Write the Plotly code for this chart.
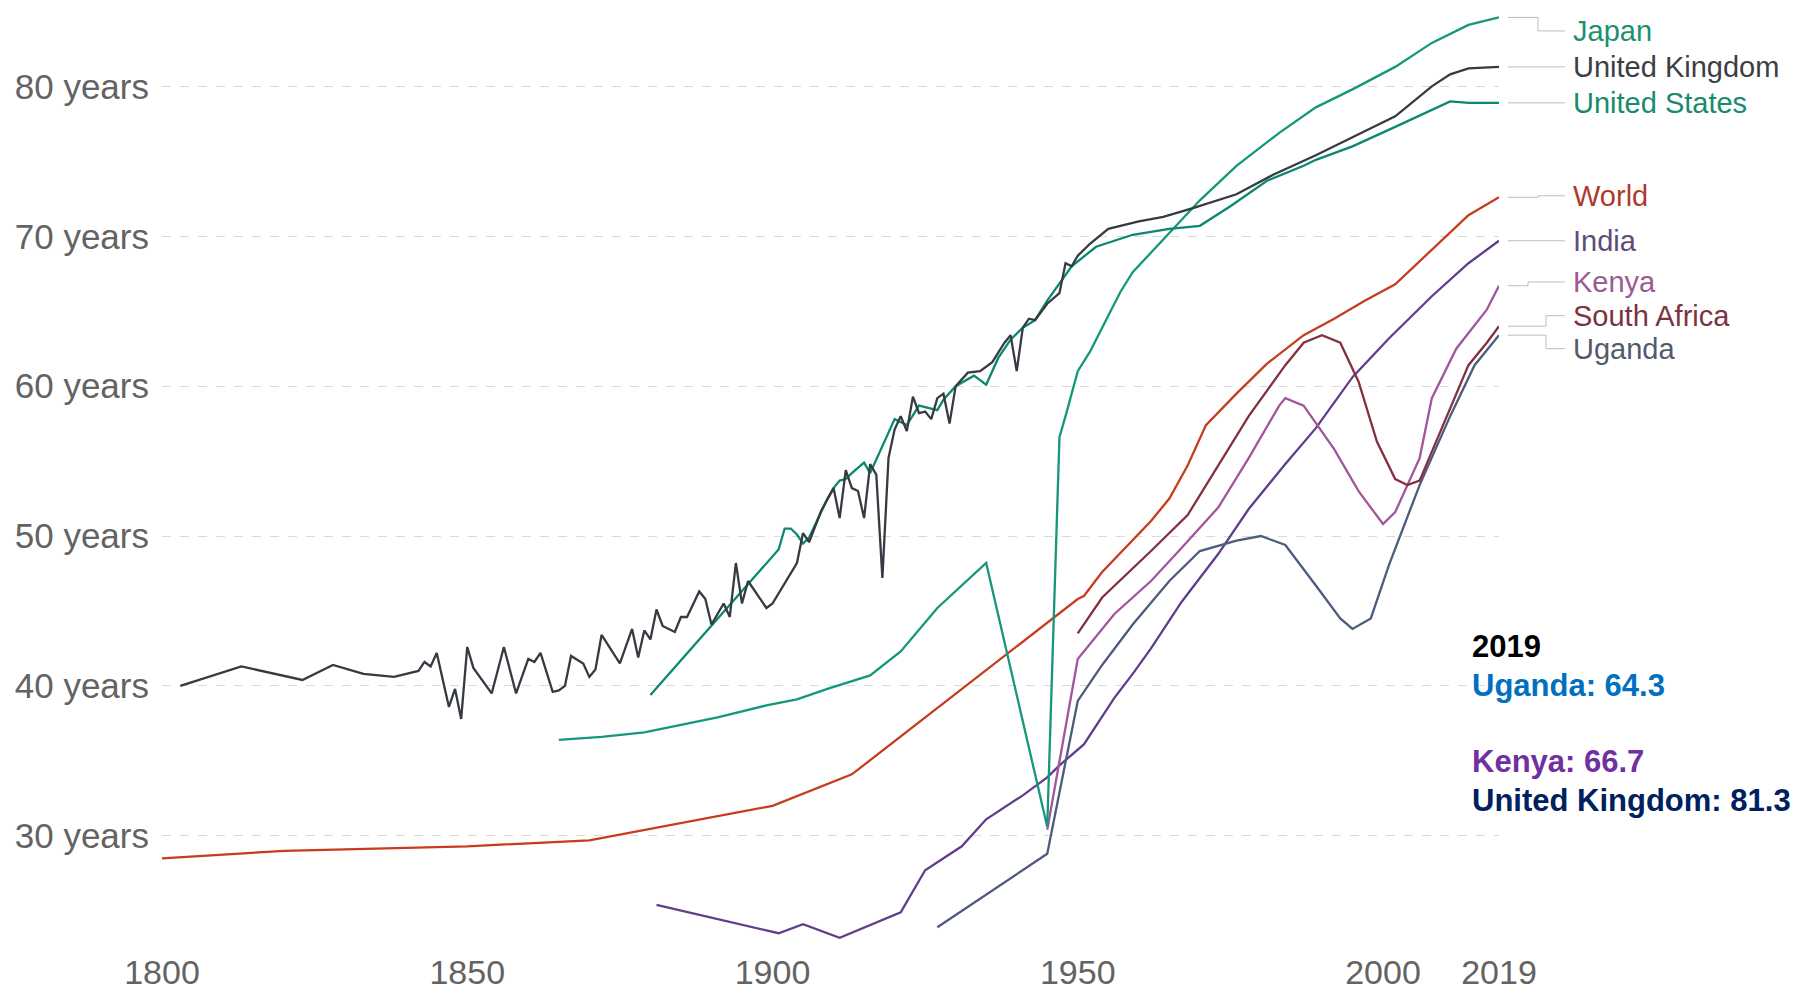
import plotly.graph_objects as go

# ---------------- data ----------------
uk_years = [1803, 1813, 1823, 1828, 1833, 1838, 1842, 1843, 1844, 1845, 1847, 1848, 1849, 1850,
            1851, 1854, 1856, 1858, 1860, 1861, 1862, 1864, 1865, 1866, 1867, 1869, 1870, 1871,
            1872, 1875, 1877, 1878, 1879, 1880, 1881, 1882, 1884, 1885, 1886, 1888, 1889, 1890,
            1892, 1893, 1894, 1895, 1896, 1899, 1900, 1904, 1905, 1906, 1908, 1910, 1911, 1912,
            1913, 1914, 1915, 1916, 1917, 1918, 1919, 1920, 1921, 1922, 1923, 1924, 1925, 1926,
            1927, 1928, 1929, 1930, 1932, 1934, 1936, 1938, 1939, 1940, 1941, 1942, 1943, 1945,
            1947, 1948, 1949, 1950, 1952, 1955, 1960, 1964, 1969, 1976, 1982, 1987, 1989, 1995,
            2002, 2008, 2011, 2014, 2019]
uk_vals = [40.0, 41.3, 40.4, 41.4, 40.8, 40.6, 41.0, 41.6, 41.3, 42.2, 38.6, 39.8, 37.8, 42.6,
           41.2, 39.5, 42.6, 39.5, 41.8, 41.6, 42.2, 39.6, 39.7, 40.0, 42.0, 41.5, 40.6, 41.1,
           43.4, 41.5, 43.8, 41.9, 43.7, 43.1, 45.1, 44.0, 43.6, 44.6, 44.6, 46.3, 45.8, 44.1,
           45.5, 44.6, 48.2, 45.5, 47.0, 45.2, 45.5, 48.2, 50.2, 49.6, 51.7, 53.2, 51.2, 54.4,
           53.2, 53.0, 51.2, 54.8, 54.1, 47.2, 55.2, 57.1, 58.0, 57.0, 59.3, 58.2, 58.3, 57.8,
           59.2, 59.5, 57.5, 60.0, 60.9, 61.0, 61.6, 62.9, 63.4, 61.0, 63.9, 64.5, 64.4, 65.5,
           66.2, 68.2, 68.0, 68.7, 69.5, 70.5, 71.0, 71.3, 71.9, 72.8, 74.1, 75.0, 75.4, 76.6,
           78.0, 80.0, 80.8, 81.2, 81.3]

us_years = [1880, 1901, 1902, 1903, 1904, 1905, 1906, 1907, 1908, 1909, 1910, 1911, 1912, 1913,
            1915, 1916, 1919, 1920, 1922, 1924, 1927, 1928, 1930, 1933, 1935, 1937, 1939, 1941,
            1943, 1945, 1949, 1953, 1959, 1965, 1970, 1975, 1981, 1987, 1989, 1995, 2002, 2008,
            2011, 2014, 2019]
us_vals = [39.4, 49.1, 50.5, 50.5, 50.1, 49.5, 49.9, 50.8, 51.7, 52.5, 53.2, 53.7, 53.8, 54.2,
           54.9, 54.2, 56.9, 57.8, 57.4, 58.7, 58.4, 59.1, 60.0, 60.7, 60.1, 61.9, 63.1, 63.9,
           64.4, 65.7, 68.0, 69.3, 70.1, 70.5, 70.7, 72.0, 73.7, 74.7, 75.1, 76.0, 77.3, 78.4,
           79.0, 78.9, 78.9]

japan_years = [1865, 1872, 1879, 1884, 1891, 1899, 1904, 1909, 1916, 1921, 1927, 1935, 1945,
               1947, 1948, 1950, 1952, 1954, 1957, 1959, 1965, 1970, 1976, 1983, 1989, 1995,
               2002, 2008, 2014, 2019]
japan_vals = [36.4, 36.6, 36.9, 37.3, 37.9, 38.7, 39.1, 39.8, 40.7, 42.3, 45.2, 48.2, 30.6,
              56.6, 58.0, 61.0, 62.3, 63.9, 66.3, 67.6, 70.2, 72.4, 74.7, 76.9, 78.6, 79.8,
              81.3, 82.9, 84.1, 84.6]

world_years = [1800, 1820, 1850, 1870, 1900, 1913, 1950, 1951, 1954, 1957, 1962, 1965, 1968,
               1971, 1976, 1981, 1987, 1992, 1997, 2002, 2008, 2014, 2019]
world_vals = [28.5, 29.0, 29.3, 29.7, 32.0, 34.1, 45.8, 46.0, 47.6, 48.9, 51.0, 52.5, 54.7,
              57.4, 59.5, 61.5, 63.4, 64.5, 65.7, 66.8, 69.1, 71.4, 72.6]

india_years = [1881, 1901, 1905, 1911, 1921, 1925, 1931, 1935, 1941, 1945, 1947, 1951, 1956,
               1959, 1962, 1967, 1973, 1978, 1984, 1989, 1995, 2001, 2008, 2014, 2019]
india_vals = [25.4, 23.5, 24.1, 23.2, 24.9, 27.7, 29.3, 31.1, 32.7, 33.9, 34.7, 36.1, 39.2,
              40.8, 42.5, 45.6, 48.8, 51.8, 54.8, 57.2, 60.6, 63.2, 66.0, 68.2, 69.7]

kenya_years = [1945, 1950, 1956, 1962, 1967, 1973, 1978, 1983, 1984, 1987, 1992, 1996, 2000,
               2002, 2006, 2008, 2012, 2017, 2019]
kenya_vals = [30.4, 41.8, 44.8, 47.0, 49.2, 51.9, 55.2, 58.7, 59.2, 58.7, 55.8, 53.0, 50.8,
              51.6, 55.2, 59.2, 62.5, 65.1, 66.7]

sa_years = [1950, 1954, 1962, 1968, 1973, 1978, 1984, 1987, 1990, 1993, 1996, 1999, 2002,
            2004, 2006, 2008, 2011, 2014, 2017, 2019]
sa_vals = [43.5, 45.9, 49.0, 51.4, 54.7, 58.0, 61.4, 62.9, 63.4, 62.9, 60.3, 56.3, 53.8,
           53.4, 53.7, 55.6, 58.5, 61.4, 62.9, 64.0]

uganda_years = [1927, 1945, 1950, 1954, 1959, 1965, 1970, 1976, 1980, 1984, 1989, 1993, 1995,
                1998, 2001, 2006, 2011, 2015, 2019]
uganda_vals = [23.9, 28.8, 39.0, 41.4, 44.1, 47.0, 49.0, 49.7, 50.0, 49.4, 46.7, 44.5, 43.8,
               44.5, 48.1, 53.4, 58.0, 61.4, 63.4]

names = ["Japan", "United Kingdom", "United States", "World", "India", "Kenya",
         "South Africa", "Uganda"]
label_y = [83.7, 81.3, 78.9, 72.7, 69.7, 66.95, 64.7, 62.5]

x_ticks = [1800, 1850, 1900, 1950, 2000, 2019]
y_ticks = [30, 40, 50, 60, 70, 80]
y_tick_text = [f"{v} years" for v in y_ticks]

callout_lines = ["2019", "Uganda: 64.3", "", "Kenya: 66.7", "United Kingdom: 81.3"]

# ---------------- styling ----------------
series = {
    "Japan": (japan_years, japan_vals, "#14977a", "#1d8f73"),
    "United Kingdom": (uk_years, uk_vals, "#363a42", "#3d3d45"),
    "United States": (us_years, us_vals, "#0b8870", "#1a8a6e"),
    "World": (world_years, world_vals, "#c63c1c", "#b0392e"),
    "India": (india_years, india_vals, "#603e8c", "#5e4c78"),
    "Kenya": (kenya_years, kenya_vals, "#a2559c", "#9a5a93"),
    "South Africa": (sa_years, sa_vals, "#86303e", "#7a3440"),
    "Uganda": (uganda_years, uganda_vals, "#4d5b7c", "#525a6c"),
}
draw_order = ["World", "India", "Uganda", "Kenya", "South Africa", "Japan", "United States",
              "United Kingdom"]

W, H = 1804, 993
PX_L, PX_R, PX_T, PX_B = 162, 1499, 2, 953
Y_PER_UNIT = 15.1
Y80_PX = 87.0
y_top = 80 + (Y80_PX - PX_T) / Y_PER_UNIT
y_bot = 80 - (PX_B - Y80_PX) / Y_PER_UNIT


def xp(px):
    return (px - PX_L) / (PX_R - PX_L)


def yp(py):
    return (PX_B - py) / (PX_B - PX_T)


fig = go.Figure()
for nm in draw_order:
    xs, ys, col, _ = series[nm]
    fig.add_trace(go.Scatter(x=xs, y=ys, mode="lines", name=nm,
                             line=dict(color=col, width=2.3), hoverinfo="skip"))

FONT = "Liberation Sans, Arial, Helvetica, sans-serif"
annotations = []
shapes = []
CONN_START, CONN_END, LABEL_X = 1508, 1565, 1571
elbow = {"Japan": 1538, "Kenya": 1528, "South Africa": 1546, "Uganda": 1546}
for nm, ly in zip(names, label_y):
    xs, ys, col, lcol = series[nm]
    end_v = ys[-1]
    ex = elbow.get(nm, 1538)
    seg = [(CONN_START, end_v, ex, end_v), (ex, end_v, ex, ly), (ex, ly, CONN_END, ly)]
    for x0, y0, x1, y1 in seg:
        shapes.append(dict(type="line", xref="paper", yref="y", x0=xp(x0), x1=xp(x1),
                           y0=y0, y1=y1, line=dict(color="#bdbdbd", width=1)))
    annotations.append(dict(x=xp(LABEL_X), y=ly, xref="paper", yref="y", text=nm,
                            showarrow=False, xanchor="left", yanchor="middle",
                            font=dict(family=FONT, size=29, color=lcol)))

callout_colors = ["#000000", "#0070C0", "#000000", "#7030A0", "#002060"]
callout_px = [651.5, 690.5, 729, 767.5, 806.5]
for txt, col, py in zip(callout_lines, callout_colors, callout_px):
    if not txt:
        continue
    annotations.append(dict(x=xp(1470), y=yp(py), xref="paper", yref="paper",
                            text=f"<b>{txt}</b>", showarrow=False, xanchor="left",
                            yanchor="middle", font=dict(family=FONT, size=31, color=col)))

fig.update_layout(
    width=W, height=H,
    margin=dict(l=PX_L, r=W - PX_R, t=PX_T, b=H - PX_B, pad=0),
    paper_bgcolor="white", plot_bgcolor="white",
    showlegend=False,
    annotations=annotations,
    shapes=shapes,
    font=dict(family=FONT),
    xaxis=dict(range=[1800, 2019], tickvals=x_ticks, ticktext=[str(t) for t in x_ticks],
               showgrid=False, zeroline=False, showline=False, ticks="",
               ticklabelstandoff=3,
               tickfont=dict(family=FONT, size=34, color="#636363")),
    yaxis=dict(range=[y_bot, y_top], tickvals=y_ticks, ticktext=y_tick_text,
               showgrid=True, gridcolor="#dadada", griddash="dash", gridwidth=1,
               zeroline=False, showline=False, ticks="", ticklabelstandoff=12,
               tickfont=dict(family=FONT, size=35, color="#636363")),
)

fig.write_html(
    "out.html",
    config={"displayModeBar": False},
    post_script="document.body.style.margin='0';document.body.style.overflow='hidden';",
)
